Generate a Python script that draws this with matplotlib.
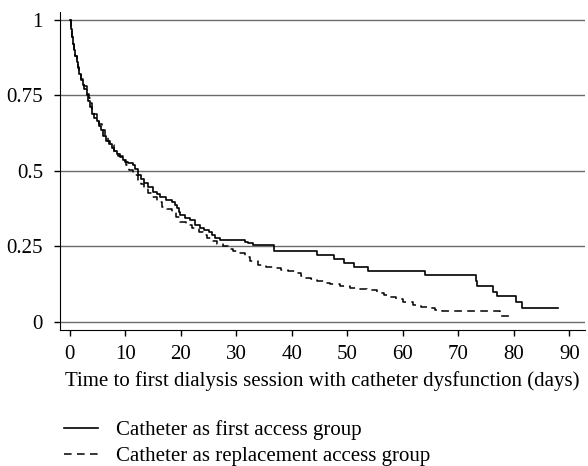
import numpy as np
import matplotlib.pyplot as plt

# Kaplan-Meier style curves (time in days, proportion)
first_t = [0, 0.2, 0.4, 0.6, 0.8, 1.0, 1.2, 1.45, 1.7, 2.0, 2.3, 2.6, 3.0, 3.3, 3.6,
           4.0, 4.4, 4.8, 5.2, 5.6, 6.0, 6.5, 7.0, 7.5, 8.0, 8.5, 9.0, 9.5, 10.0,
           10.4, 11.3, 11.7, 12.2, 12.8, 13.4, 14.1, 14.9, 15.6, 16.3, 17.3, 18.4,
           19.0, 19.3, 19.6, 19.9, 20.8, 21.7, 22.6, 23.5, 24.2, 25.0, 25.6, 26.1,
           27.0, 31.6, 32.1, 33.0, 36.8, 44.6, 47.5, 49.3, 51.2, 53.7, 63.9, 73.1,
           73.4, 76.3, 76.9, 80.3, 81.4, 87.9]
first_s = [1.0, 0.97, 0.945, 0.92, 0.9, 0.88, 0.86, 0.84, 0.82, 0.80, 0.785, 0.77,
           0.75, 0.73, 0.71, 0.69, 0.675, 0.665, 0.65, 0.635, 0.615, 0.6, 0.588,
           0.575, 0.565, 0.555, 0.545, 0.535, 0.528, 0.525, 0.519, 0.505, 0.486,
           0.472, 0.459, 0.445, 0.431, 0.422, 0.414, 0.405, 0.398, 0.388, 0.376,
           0.365, 0.354, 0.345, 0.337, 0.322, 0.31, 0.305, 0.298, 0.287, 0.276,
           0.27, 0.265, 0.26, 0.254, 0.236, 0.221, 0.208, 0.196, 0.182, 0.169,
           0.154, 0.136, 0.118, 0.099, 0.086, 0.066, 0.046, 0.046]

repl_t = [0, 0.2, 0.4, 0.6, 0.8, 1.0, 1.2, 1.45, 1.7, 2.0, 2.5, 3.1, 3.4, 3.7, 4.0,
          4.4, 4.8, 5.3, 5.8, 6.3, 6.8, 7.3, 8.0, 8.7, 9.5, 10.1, 10.7, 11.4, 12.2,
          12.8, 13.4, 14.0, 14.6, 15.6, 16.6, 17.5, 18.4, 19.2, 19.9, 21.0, 22.0,
          23.2, 24.0, 24.7, 25.6, 26.5, 27.5, 28.5, 29.4, 30.3, 31.5, 32.5, 33.9,
          35.3, 36.8, 38.0, 39.2, 41.0, 41.6, 42.2, 43.4, 44.6, 45.8, 46.9, 48.7,
          50.5, 52.0, 53.5, 55.3, 56.5, 57.6, 58.8, 60.0, 61.8, 63.2, 64.5, 65.8,
          67.1, 77.5, 79.3]
repl_s = [1.0, 0.97, 0.945, 0.92, 0.9, 0.88, 0.86, 0.845, 0.825, 0.805, 0.78, 0.755,
          0.74, 0.725, 0.705, 0.69, 0.672, 0.655, 0.635, 0.615, 0.598, 0.585, 0.565,
          0.55, 0.535, 0.518, 0.503, 0.486, 0.47, 0.456, 0.442, 0.428, 0.414, 0.397,
          0.381, 0.373, 0.365, 0.348, 0.331, 0.32, 0.31, 0.298, 0.287, 0.276, 0.268,
          0.259, 0.25, 0.242, 0.235, 0.227, 0.215, 0.2, 0.188, 0.182, 0.177, 0.172,
          0.168, 0.162, 0.152, 0.144, 0.14, 0.136, 0.13, 0.125, 0.119, 0.113, 0.109,
          0.105, 0.094, 0.089, 0.083, 0.075, 0.066, 0.055, 0.05, 0.045, 0.04, 0.036,
          0.018, 0.018]

x_ticks = [0, 10, 20, 30, 40, 50, 60, 70, 80, 90]
y_ticks = [0, 0.25, 0.5, 0.75, 1]
y_labels = ["0", "0.25", "0.5", "0.75", "1"]

plt.rcParams['font.family'] = ['Liberation Serif', 'DejaVu Serif']

fig = plt.figure(figsize=(5.88, 4.66), dpi=100)
ax = fig.add_axes([0.1026, 0.2908, 0.8923, 0.6835])

for y in y_ticks:
    ax.axhline(y, color='0.42', lw=1.0, zorder=1)

l1, = ax.step(first_t, first_s, where='post', color='black', lw=1.2,
              label="Catheter as first access group", zorder=3)
l2, = ax.step(repl_t, repl_s, where='post', color='black', lw=1.1,
              linestyle=(0, (5, 3.5)), label="Catheter as replacement access group", zorder=3)

ax.set_xlim(-1.73, 92.8)
ax.set_ylim(-0.029, 1.0265)
ax.set_xticks(x_ticks)
ax.set_yticks(y_ticks)
ax.set_yticklabels(y_labels)
ax.tick_params(direction='out', length=4.5, width=1, labelsize=15, colors='black')
ax.tick_params(axis='x', pad=6)
ax.tick_params(axis='y', pad=8)
ax.spines['top'].set_visible(False)
ax.spines['right'].set_visible(False)
ax.set_xlabel("Time to first dialysis session with catheter dysfunction (days)",
              fontsize=15, labelpad=5)

fig.legend(handles=[l1, l2], loc='upper left', bbox_to_anchor=(0.109, 0.098),
           frameon=False, fontsize=15, handlelength=1.63, handletextpad=0.86,
           labelspacing=0.3, borderaxespad=0, borderpad=0)

fig.savefig("out.png", dpi=100)
